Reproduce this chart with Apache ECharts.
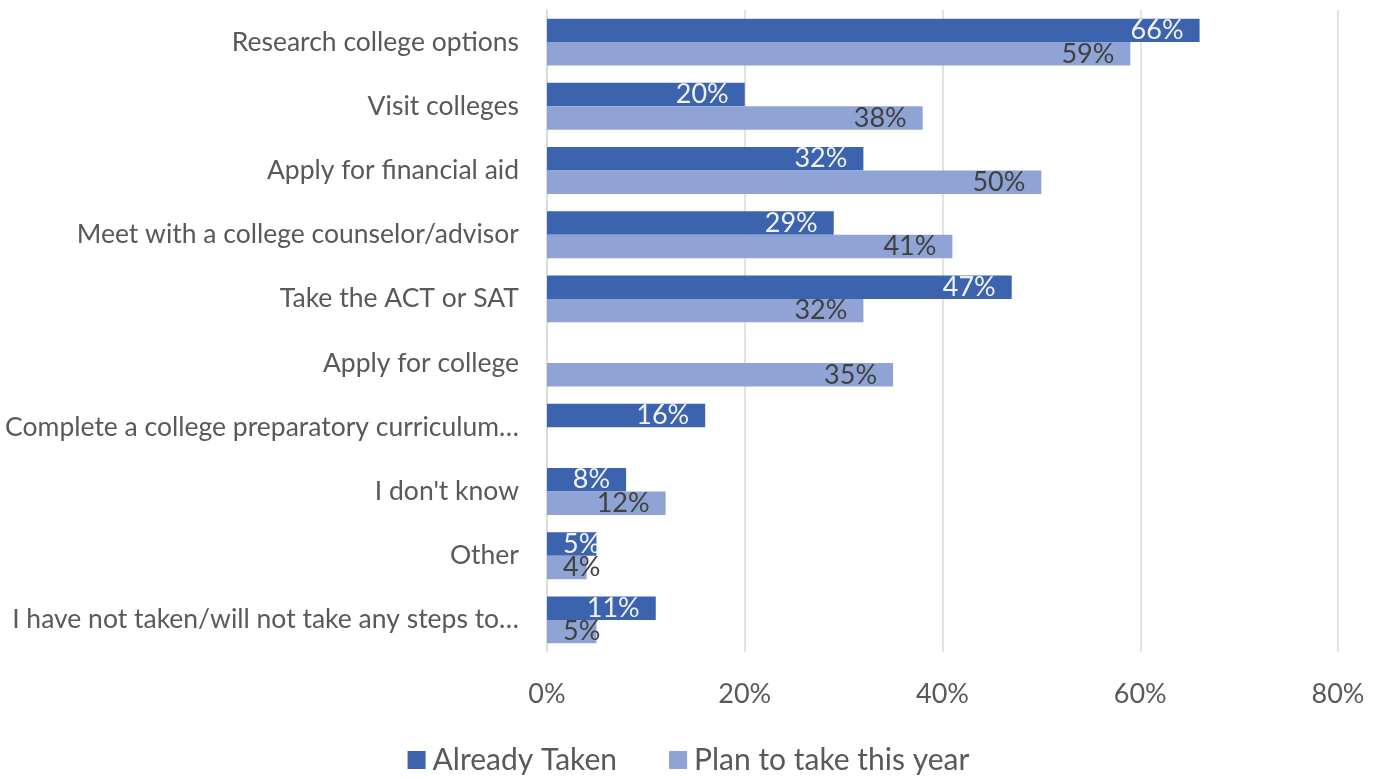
<!DOCTYPE html>
<html>
<head>
<meta charset="utf-8">
<script src="https://cdn.jsdelivr.net/npm/echarts@6/dist/echarts.min.js"></script>
<style>
  html, body { margin: 0; padding: 0; background: #ffffff; }
  #chart { width: 1377px; height: 778px; }
</style>
</head>
<body>
<div id="chart"></div>
<script>
// College steps survey: share of respondents per step
const categories = [
  'Research college options',
  'Visit colleges',
  'Apply for financial aid',
  'Meet with a college counselor/advisor',
  'Take the ACT or SAT',
  'Apply for college',
  'Complete a college preparatory curriculum…',
  "I don't know",
  'Other',
  'I have not taken/will not take any steps to…'
];
const alreadyTaken = [66, 20, 32, 29, 47, null, 16, 8, 5, 11];
const planThisYear = [59, 38, 50, 41, 32, 35, null, 12, 4, 5];
const xTicks = [0, 20, 40, 60, 80];

const FONT = 'Lato, "Open Sans", sans-serif';

// short bars keep their label anchored to the left edge
function withLabels(values, color) {
  return values.map(v => {
    if (v === null) return null;
    const small = v <= 5;
    return {
      value: v,
      label: {
        position: small ? 'insideLeft' : 'insideRight',
        distance: 16,
        color: color
      }
    };
  });
}

const chart = echarts.init(document.getElementById('chart'));
chart.setOption({
  animation: false,
  backgroundColor: '#ffffff',
  grid: { left: 547, right: 39, top: 10, height: 642, containLabel: false },
  legend: {
    top: 740,
    left: 'center',
    itemWidth: 18,
    itemHeight: 18,
    itemGap: 52,
    icon: 'rect',
    textStyle: { fontFamily: FONT, fontSize: 30, color: '#595959', padding: [0, 0, 0, 2] },
    data: ['Already Taken', 'Plan to take this year']
  },
  xAxis: {
    type: 'value',
    min: xTicks[0],
    max: xTicks[xTicks.length - 1],
    interval: 20,
    axisLine: { show: false },
    axisTick: { show: false },
    splitLine: { lineStyle: { color: '#d9d9d9', width: 1.5 } },
    axisLabel: {
      formatter: v => v + '%',
      fontFamily: FONT,
      fontSize: 27,
      color: '#595959',
      margin: 29
    }
  },
  yAxis: {
    type: 'category',
    data: categories,
    inverse: true,
    axisLine: { show: true, lineStyle: { color: '#d9d9d9', width: 1.5 } },
    axisTick: { show: false },
    axisLabel: {
      fontFamily: FONT,
      fontSize: 26.5,
      color: '#595959',
      margin: 28
    }
  },
  series: [
    {
      name: 'Already Taken',
      type: 'bar',
      data: withLabels(alreadyTaken, '#f2f2f2'),
      itemStyle: { color: '#3c63ad' },
      barGap: '0%',
      barCategoryGap: '27%',
      label: {
        show: true,
        formatter: p => p.value + '%',
        fontFamily: FONT,
        fontSize: 27
      }
    },
    {
      name: 'Plan to take this year',
      type: 'bar',
      data: withLabels(planThisYear, '#404040'),
      itemStyle: { color: '#8fa4d4' },
      barGap: '0%',
      barCategoryGap: '27%',
      label: {
        show: true,
        formatter: p => p.value + '%',
        fontFamily: FONT,
        fontSize: 27
      }
    }
  ]
});
</script>
</body>
</html>
